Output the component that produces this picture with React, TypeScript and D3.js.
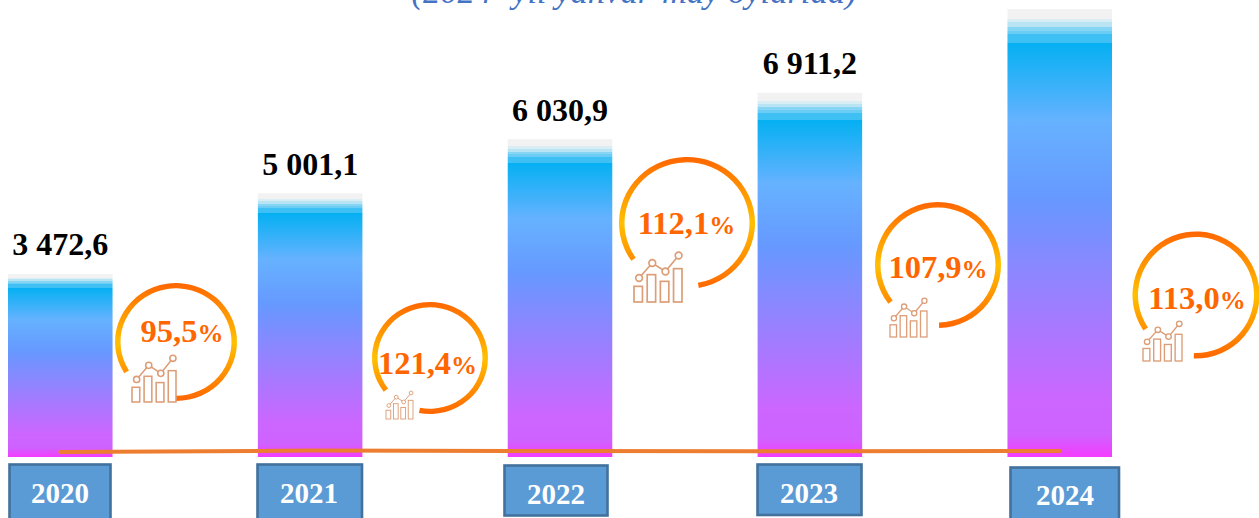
import React from "react";
import * as d3 from "d3";

const years = ["2020", "2021", "2022", "2023", "2024"];
const barValues = [3472.6, 5001.1, 6030.9, 6911.2, 8500];
const valueLabels = ["3 472,6", "5 001,1", "6 030,9", "6 911,2", ""];
const growthValues = [95.5, 121.4, 112.1, 107.9, 113.0];
const growthLabels = ["95,5", "121,4", "112,1", "107,9", "113,0"];
const titleText = "(2024- yil yanvar-may oylarida)";

const iconBars = [0.313, 0.547, 0.413, 0.667];
const iconLine = [0.48, 0.78, 0.61, 0.93];

const WIDTH = 1259;
const HEIGHT = 518;
const SERIF = "'Liberation Serif','Times New Roman',serif";

const ringLayout = [
  { cx: 176, cy: 342, rx: 61, ry: 59, a0: -122, a1: 180, tx: 182, ty: 342, ix: 132, iy: 355, iw: 44, ih: 47 },
  { cx: 430, cy: 358, rx: 58, ry: 56, a0: -127, a1: 191, tx: 427.5, ty: 374, ix: 386, iy: 391, iw: 27, ih: 28 },
  { cx: 687, cy: 223, rx: 68, ry: 66, a0: -125, a1: 170, tx: 686.5, ty: 234, ix: 634, iy: 252, iw: 48, ih: 50 },
  { cx: 938, cy: 265, rx: 63, ry: 63, a0: -128, a1: 179, tx: 938, ty: 278, ix: 890, iy: 298, iw: 37, ih: 39 },
  { cx: 1196, cy: 295, rx: 63.5, ry: 63.5, a0: -124, a1: 182, tx: 1197, ty: 309, ix: 1143, iy: 321, iw: 39, ih: 40 },
];

const boxLayout = [
  { x: 9.5, y: 464.5, w: 101, h: 60, ty: 503, tx: 60 },
  { x: 257.5, y: 464.5, w: 104.5, h: 60, ty: 503, tx: 309 },
  { x: 504.5, y: 465.5, w: 103, h: 50, ty: 504, tx: 556 },
  { x: 757.5, y: 464.5, w: 104, h: 50.5, ty: 503, tx: 809 },
  { x: 1010.5, y: 467.5, w: 108.5, h: 60, ty: 505, tx: 1065 },
];

const barStops: [number, string][] = [
  [0, "#f2f2f2"], [0.022, "#f2f2f2"],
  [0.022, "#d9edf5"], [0.03, "#d9edf5"],
  [0.03, "#b9e4f4"], [0.04, "#b9e4f4"],
  [0.04, "#86d5f4"], [0.048, "#86d5f4"],
  [0.048, "#6ccdf4"], [0.056, "#6ccdf4"],
  [0.056, "#3fc0f5"], [0.076, "#3fc0f5"],
  [0.076, "#05b0f2"],
  [0.25, "#66b2ff"],
  [0.42, "#6699ff"],
  [0.87, "#cc66ff"],
  [0.95, "#cf62ff"],
  [1, "#f43cff"],
];

const x = d3.scaleBand<string>().domain(years).range([8, 1112]).paddingInner(0.5816).paddingOuter(0);
const y = d3.scaleLinear().domain([0, 8500]).range([457, 9]);

const trendLine = d3
  .line<number>()
  .x((_, i) => (x(years[i]) as number) + x.bandwidth() / 2)
  .y((d) => y(d));

function Icon({ l }: { l: (typeof ringLayout)[number] }) {
  const color = "#dc9d77";
  const bw = 0.176 * l.iw;
  const sx = d3.scaleLinear().domain([0, iconBars.length - 1]).range([0, l.iw - bw]);
  const sy = d3.scaleLinear().domain([0, 1]).range([l.iy + l.ih, l.iy]);
  const pts = iconLine.map((v, i) => [l.ix + sx(i) + bw * 0.6, sy(v)] as [number, number]);
  const r = 0.07 * l.iw;
  const sw = Math.max(0.9, l.iw * 0.035);
  return (
    <g fill="none" stroke={color} strokeWidth={sw}>
      {iconBars.map((v, i) => (
        <rect key={i} x={l.ix + sx(i)} y={sy(v)} width={bw} height={l.iy + l.ih - sy(v)} />
      ))}
      <path d={d3.line()(pts) as string} />
      {pts.map((p, i) => (
        <circle key={i} cx={p[0]} cy={p[1]} r={r} fill="#fff" />
      ))}
    </g>
  );
}

export default function App() {
  const deg = Math.PI / 180;
  return (
    <svg
      width={WIDTH}
      height={HEIGHT}
      style={{ position: "absolute", left: 0, top: 0, background: "#fff", display: "block" }}
    >
      <defs>
        <linearGradient id="barFill" x1="0" y1="0" x2="0" y2="1">
          {barStops.map(([o, c], i) => (
            <stop key={i} offset={o} stopColor={c} />
          ))}
        </linearGradient>
        {ringLayout.map((l, i) => (
          <linearGradient key={i} id={`ring${i}`} gradientUnits="userSpaceOnUse" x1="0" y1={-l.rx} x2="0" y2={l.rx}>
            <stop offset="0" stopColor="#ff6600" />
            <stop offset="0.5" stopColor="#ffc000" />
            <stop offset="1" stopColor="#ff6600" />
          </linearGradient>
        ))}
      </defs>

      <text
        x={634}
        y={3}
        textAnchor="middle"
        fontFamily={SERIF}
        fontStyle="italic"
        fontSize={34.5}
        fill="#4472c4"
      >
        {titleText}
      </text>

      {years.map((yr, i) => (
        <rect
          key={yr}
          x={x(yr)}
          y={y(barValues[i])}
          width={x.bandwidth()}
          height={y(0) - y(barValues[i])}
          fill="url(#barFill)"
        />
      ))}

      {years.map((yr, i) =>
        valueLabels[i] ? (
          <text
            key={yr}
            x={(x(yr) as number) + x.bandwidth() / 2}
            y={y(barValues[i]) - 18.5}
            textAnchor="middle"
            fontFamily={SERIF}
            fontWeight="bold"
            fontSize={32}
            fill="#000"
            xmlSpace="preserve"
          >
            {valueLabels[i]}
          </text>
        ) : null
      )}

      <path
        d={trendLine(growthValues) as string}
        fill="none"
        stroke="#ed7d31"
        strokeWidth={4}
        strokeLinecap="round"
        strokeLinejoin="round"
      />

      {years.map((yr, i) => {
        const b = boxLayout[i];
        return (
          <g key={yr}>
            <rect x={b.x} y={b.y} width={b.w} height={b.h} fill="#5b9bd5" stroke="#41719c" strokeWidth={2.6} />
            <text
              x={b.tx}
              y={b.ty}
              textAnchor="middle"
              fontFamily={SERIF}
              fontWeight="bold"
              fontSize={29}
              fill="#fff"
            >
              {yr}
            </text>
          </g>
        );
      })}

      {ringLayout.map((l, i) => {
        const arc = d3.arc()({
          innerRadius: l.rx - 5.5,
          outerRadius: l.rx,
          startAngle: l.a0 * deg,
          endAngle: l.a1 * deg,
        }) as string;
        return (
          <g key={i}>
            <g transform={`translate(${l.cx},${l.cy}) scale(1,${l.ry / l.rx})`}>
              <path d={arc} fill={`url(#ring${i})`} />
            </g>
            <Icon l={l} />
            <text
              x={l.tx}
              y={l.ty}
              textAnchor="middle"
              fontFamily={SERIF}
              fontWeight="bold"
              fontSize={32.5}
              fill="#ff6600"
            >
              {growthLabels[i]}
              <tspan fontSize={26}>%</tspan>
            </text>
          </g>
        );
      })}
    </svg>
  );
}
